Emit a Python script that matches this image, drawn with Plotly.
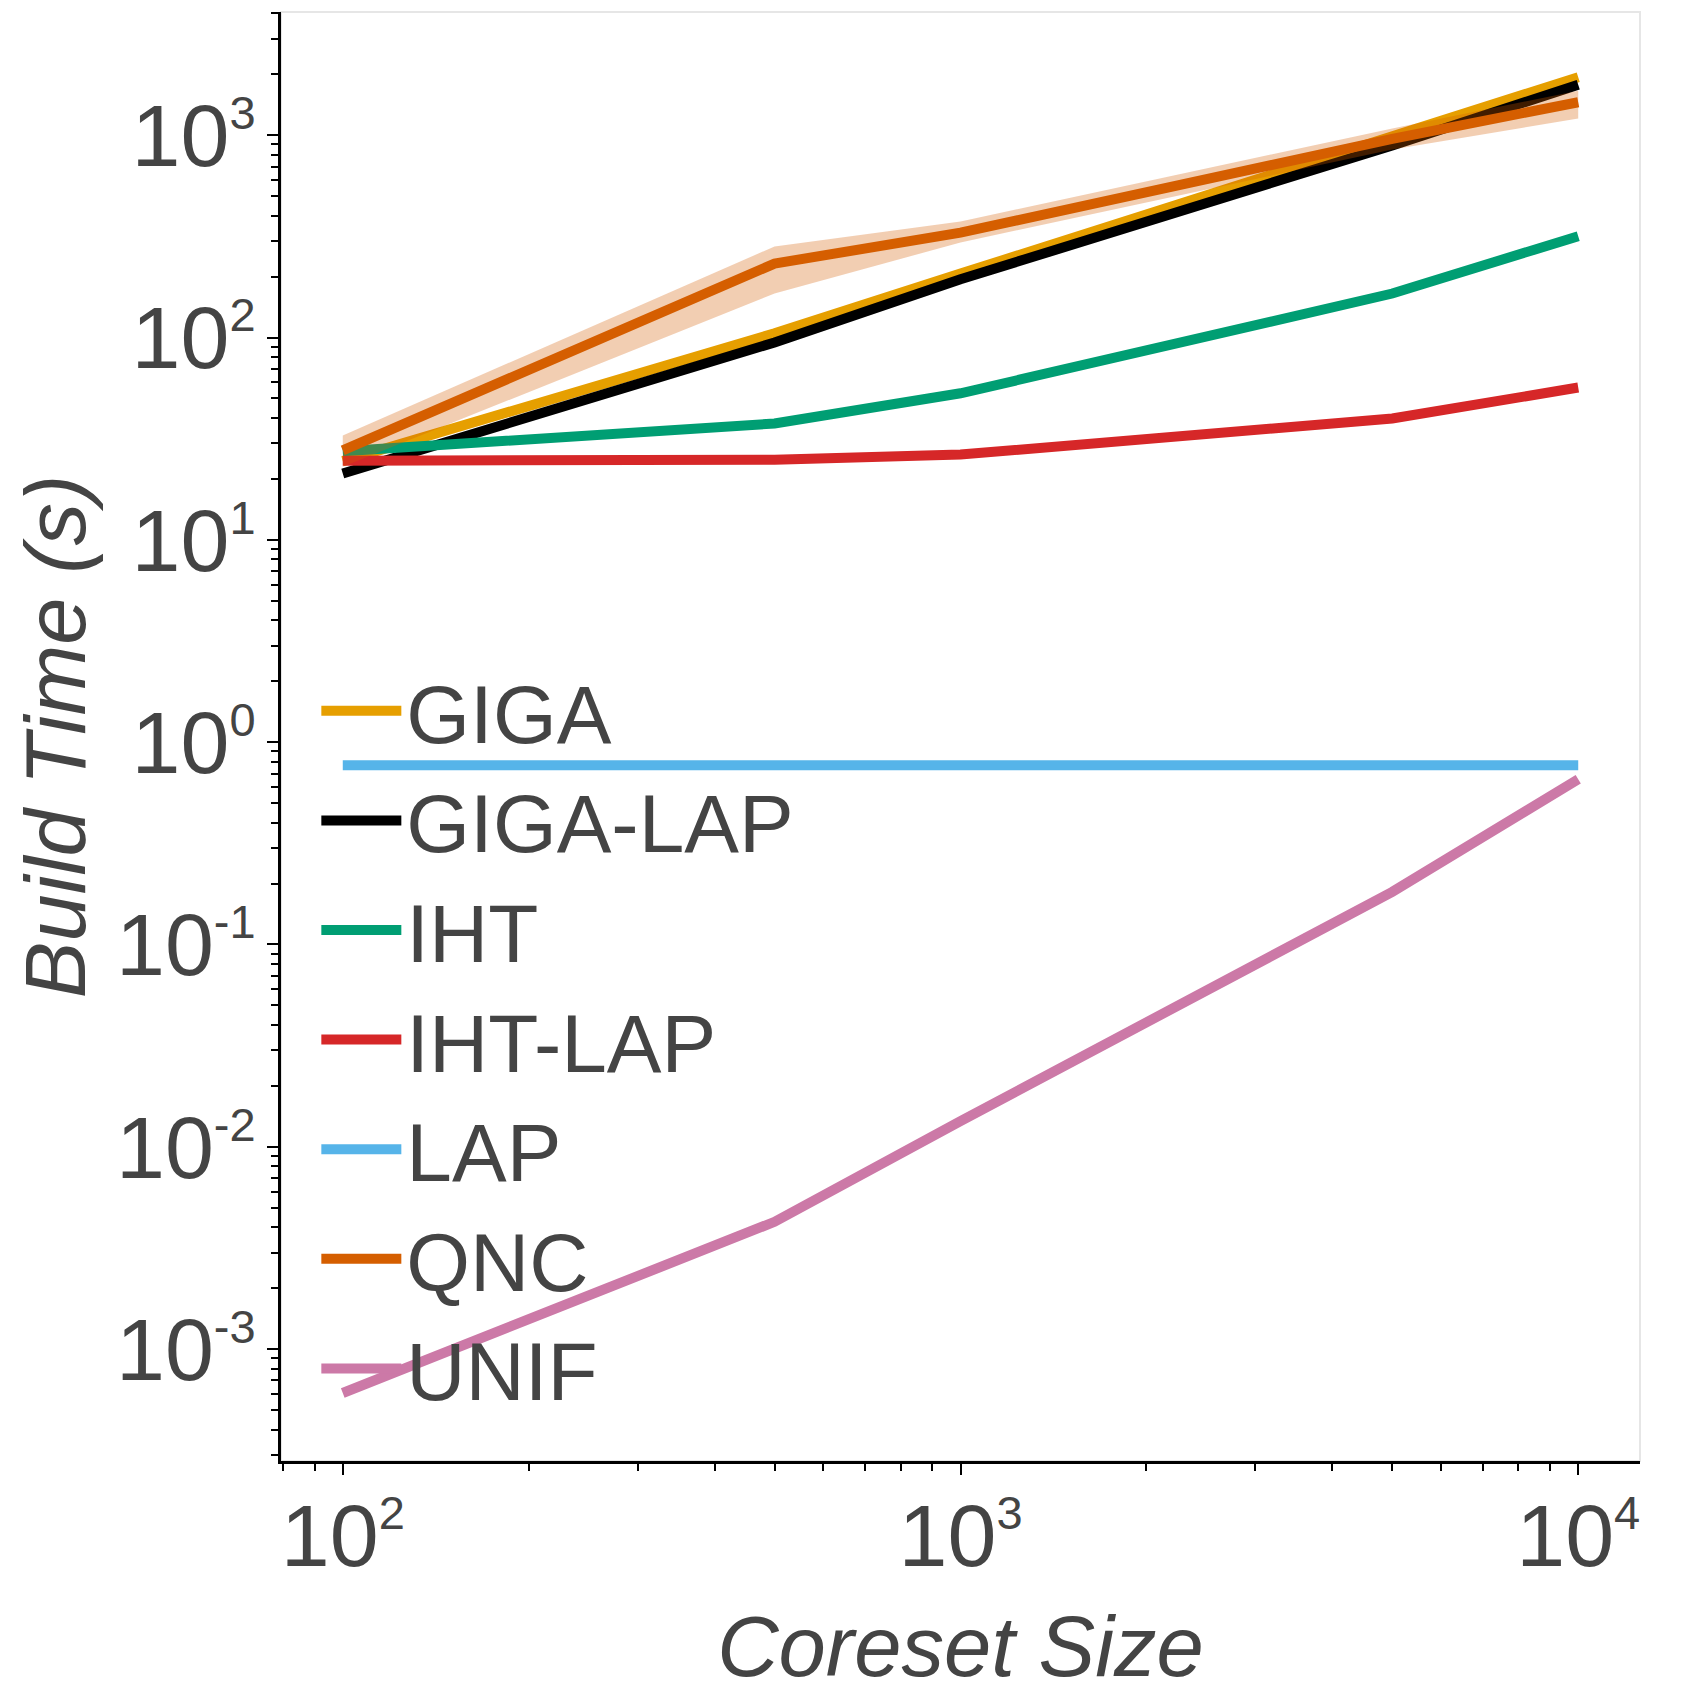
import plotly.graph_objects as go

# coreset sizes (x) and build times in seconds (y)
coreset_size = [100, 500, 1000, 5000, 10000]

giga = [24.5, 105, 207, 970, 1935]
giga_lap = [21.3, 94.6, 194, 890, 1774]
iht = [27.4, 37.6, 53, 165, 317]
iht_lap = [24.6, 24.9, 26.4, 39.8, 56.6]
lap = [0.77, 0.77, 0.77, 0.77, 0.77]
qnc = [27.7, 232, 330, 960, 1455]
qnc_lo = [23.0, 165, 295, 850, 1208]
qnc_hi = [32.8, 282, 375, 1080, 1660]
unif = [6.07e-4, 4.26e-3, 0.0134, 0.182, 0.656]

y_tickvals = [1e-3, 1e-2, 1e-1, 1e0, 1e1, 1e2, 1e3]
y_exponents = ['-3', '-2', '-1', '0', '1', '2', '3']
x_tickvals = [1e2, 1e3, 1e4]
x_exponents = ['2', '3', '4']

FONT = 'Liberation Sans, Arial, Helvetica, sans-serif'
TXT = '#444444'
LW = 10


def pow10(e):
    # small raised exponent, like mathtext
    return '10<sup><span style="font-size:47px">' + e + '</span></sup>'


fig = go.Figure()


def add_line(y, name, color):
    fig.add_trace(go.Scatter(
        x=coreset_size, y=y, mode='lines', name=name,
        line=dict(color=color, width=LW),
    ))


add_line(giga, 'GIGA', '#E69F00')
add_line(giga_lap, 'GIGA-LAP', '#000000')
add_line(iht, 'IHT', '#009E73')
add_line(iht_lap, 'IHT-LAP', '#D62728')
add_line(lap, 'LAP', '#56B4E9')

# QNC spread band
fig.add_trace(go.Scatter(
    x=coreset_size + coreset_size[::-1], y=qnc_hi + qnc_lo[::-1],
    fill='toself', fillcolor='rgba(213,94,0,0.3)', mode='none',
    showlegend=False, hoverinfo='skip',
))
add_line(qnc, 'QNC', '#D55E00')
add_line(unif, 'UNIF', '#CC79A7')

axis_common = dict(
    type='log', showgrid=False, zeroline=False,
    showline=True, linecolor='black', linewidth=2.5,
    ticks='outside', ticklen=11, tickwidth=2, tickcolor='black',
    tickmode='array',
    tickfont=dict(family=FONT, size=88, color=TXT),
    minor=dict(ticks='outside', ticklen=7, tickwidth=1.5, tickcolor='black', dtick='D1'),
)

fig.update_layout(
    width=1700, height=1700,
    margin=dict(l=273, r=68, t=4, b=247),
    paper_bgcolor='white', plot_bgcolor='white',
    font=dict(family=FONT, color=TXT),
    xaxis=dict(
        axis_common, range=[1.9, 4.1],
        tickvals=x_tickvals, ticktext=[pow10(e) for e in x_exponents],
        ticklabelstandoff=-14,
        title=dict(text='Coreset Size', standoff=33,
                   font=dict(family=FONT, size=85, color=TXT, style='italic')),
    ),
    yaxis=dict(
        axis_common, range=[-3.553, 3.609],
        tickvals=y_tickvals, ticktext=[pow10(e) for e in y_exponents],
        ticklabelstandoff=-6,
        title=dict(text='Build Time (s)', standoff=19,
                   font=dict(family=FONT, size=85, color=TXT, style='italic')),
    ),
    legend=dict(
        x=0.026, y=0.559, xanchor='left', yanchor='top',
        bgcolor='rgba(0,0,0,0)', borderwidth=0,
        font=dict(family=FONT, size=82, color=TXT),
        itemwidth=80, tracegroupgap=0,
    ),
    shapes=[dict(
        type='rect', xref='paper', yref='paper', x0=0, x1=1, y0=0, y1=1,
        line=dict(color='#e6e6e6', width=2), layer='below',
    )],
)

fig.write_html('out.html')
